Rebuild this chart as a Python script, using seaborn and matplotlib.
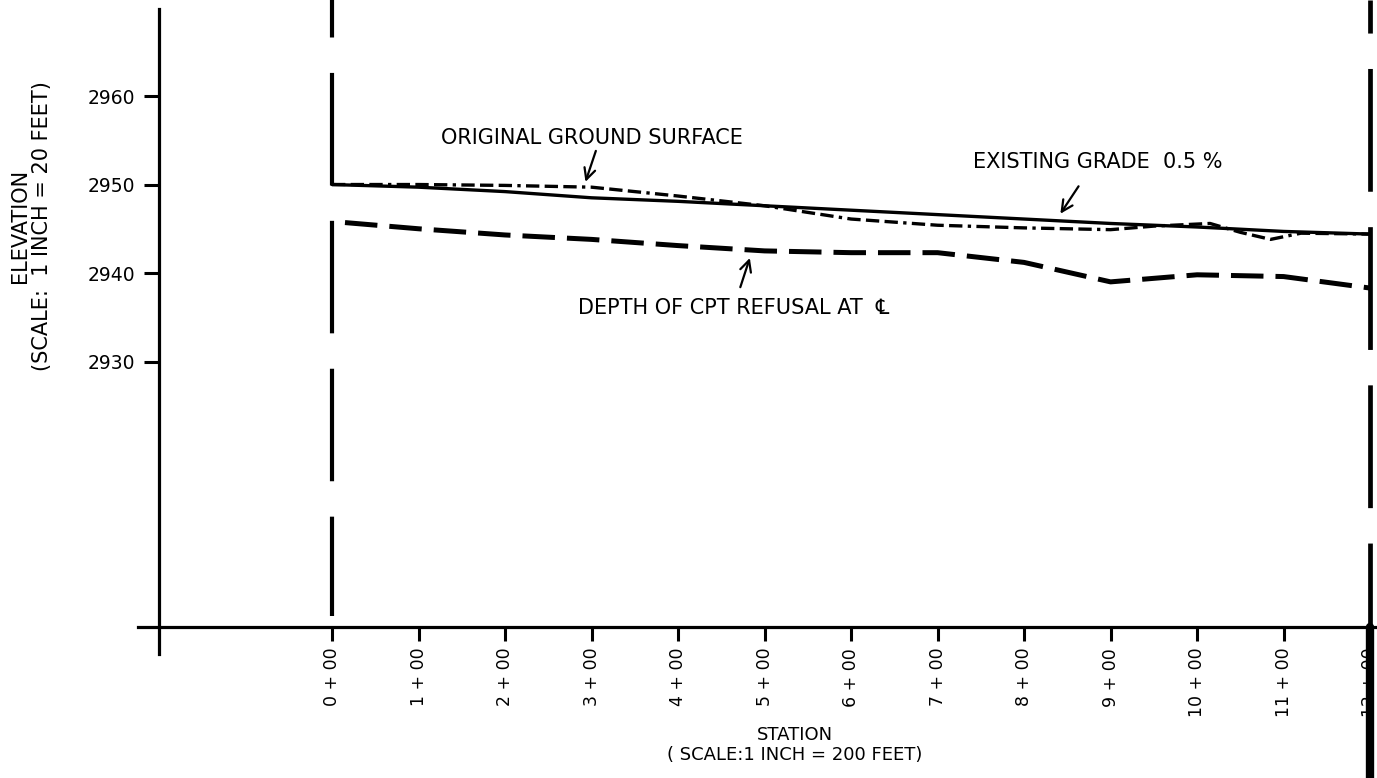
import numpy as np
import pandas as pd
import seaborn as sns
import matplotlib
matplotlib.use("Agg")
import matplotlib.pyplot as plt

# station (hundreds of feet) and elevation (feet)
grade_sta = [0, 1, 2, 3, 4, 5, 6, 7, 8, 9, 10, 11, 12]
grade_elev = [2950.0, 2949.7, 2949.2, 2948.5, 2948.1, 2947.6, 2947.1,
              2946.6, 2946.1, 2945.6, 2945.2, 2944.7, 2944.4]

orig_sta = [0, 1, 2, 3, 4, 5, 6, 7, 8, 9, 9.5, 10.15, 10.5, 10.85, 11.2, 12]
orig_elev = [2950.0, 2950.0, 2949.9, 2949.7, 2948.7, 2947.6, 2946.1, 2945.4,
             2945.1, 2944.9, 2945.3, 2945.6, 2944.6, 2943.8, 2944.5, 2944.4]

cpt_sta = [0.15, 1, 2, 3, 4, 5, 6, 7, 8, 9, 10, 11, 12]
cpt_elev = [2945.7, 2945.0, 2944.3, 2943.8, 2943.1, 2942.5, 2942.3, 2942.3,
            2941.2, 2939.0, 2939.8, 2939.6, 2938.3]

station_ticks = list(range(13))
station_labels = [f"{s} + 00" for s in station_ticks]
elev_ticks = [2930, 2940, 2950, 2960]

sns.set_theme(style="white")
plt.rcParams["font.family"] = ["DejaVu Sans"]
plt.rcParams["text.color"] = "black"
plt.rcParams["axes.labelcolor"] = "black"
plt.rcParams["xtick.color"] = "black"
plt.rcParams["ytick.color"] = "black"

fig = plt.figure(figsize=(13.77, 7.78), dpi=100)
ax = fig.add_axes([0, 0, 1, 1])
ax.set_xlim(-3.838, 12.08)
ax.set_ylim(2882.94, 2970.85)

# profile lines
sns.lineplot(x=grade_sta, y=grade_elev, ax=ax, color="black", lw=2.4,
             errorbar=None, sort=False)
sns.lineplot(x=orig_sta, y=orig_elev, ax=ax, color="black", lw=2.4,
             errorbar=None, sort=False,
             linestyle=(0, (4, 1.6, 4, 1.6, 4, 1.6, 1, 1.6)))
sns.lineplot(x=cpt_sta, y=cpt_elev, ax=ax, color="black", lw=3.6,
             errorbar=None, sort=False, linestyle=(0, (6.5, 2.4)))

# start / end of section (dashed verticals)
top, axis_y, bottom = 2970.85, 2900, 2882.94
ax.plot([0, 0], [top, 2901.2], color="black", lw=3,
        linestyle=(18, (27, 8.5)), solid_capstyle="round")
ax.plot([12, 12], [top, axis_y], color="black", lw=3.4,
        linestyle=(19, (26, 7.5)), solid_capstyle="round")
ax.plot([12, 12], [axis_y, bottom], color="black", lw=6, zorder=5,
        clip_on=False)

# axes styling
for side in ["top", "right"]:
    ax.spines[side].set_visible(False)
ax.spines["left"].set_position(("data", -2))
ax.spines["left"].set_bounds(2897.0, 2969.8)
ax.spines["bottom"].set_position(("data", 2900))
ax.spines["bottom"].set_bounds(-2.24, 12.08)
for side in ["left", "bottom"]:
    ax.spines[side].set_linewidth(2.3)
    ax.spines[side].set_color("black")

ax.set_xticks(station_ticks)
ax.set_xticklabels(station_labels, rotation=90, fontsize=12.5)
ax.set_yticks(elev_ticks)
ax.set_yticklabels([str(e) for e in elev_ticks], fontsize=13.5)
ax.tick_params(axis="x", direction="out", length=10, width=2.2, pad=5)
ax.tick_params(axis="y", direction="out", length=11, width=2.2, pad=6)
ax.tick_params(bottom=True, left=True)
ax.set_xlabel("")
ax.set_ylabel("")

# callouts
ax.text(3.0, 2955.3, "ORIGINAL GROUND SURFACE", ha="center", va="center",
        fontsize=15)
ax.annotate("", xy=(2.93, 2950.3), xytext=(3.05, 2953.8),
            arrowprops=dict(arrowstyle="->", lw=1.6, color="black",
                            mutation_scale=20, shrinkA=0, shrinkB=0))

ax.text(8.85, 2952.6, "EXISTING GRADE  0.5 %", ha="center", va="center",
        fontsize=15)
ax.annotate("", xy=(8.42, 2946.7), xytext=(8.63, 2949.8),
            arrowprops=dict(arrowstyle="->", lw=1.6, color="black",
                            mutation_scale=20, shrinkA=0, shrinkB=0))

ax.text(4.64, 2936.0, "DEPTH OF CPT REFUSAL AT  \u2104", ha="center",
        va="center", fontsize=15)
ax.annotate("", xy=(4.83, 2941.7), xytext=(4.72, 2938.4),
            arrowprops=dict(arrowstyle="->", lw=1.6, color="black",
                            mutation_scale=20, shrinkA=0, shrinkB=0))

# axis titles
fig.text(31 / 1377, 1 - 226 / 778, "ELEVATION\n(SCALE:  1 INCH = 20 FEET)",
         rotation=90, ha="center", va="center", multialignment="center",
         fontsize=15, linespacing=1.1)
fig.text(795 / 1377, 1 - 745 / 778, "STATION\n( SCALE:1 INCH = 200 FEET)",
         ha="center", va="center", multialignment="center",
         fontsize=13, linespacing=1.2)

plt.savefig("out.png", dpi=100)
